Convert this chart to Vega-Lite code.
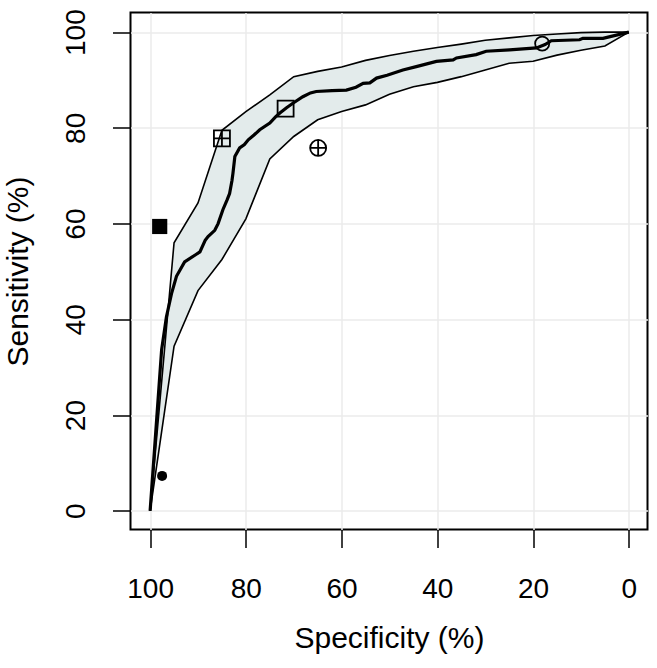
{
  "$schema": "https://vega.github.io/schema/vega-lite/v6.json",
  "width": 517,
  "height": 517,
  "autosize": "none",
  "padding": {"left": 130.5, "top": 12.5, "right": 9.5, "bottom": 138.5},
  "background": "white",
  "config": {
    "font": "Liberation Sans",
    "view": {"stroke": "black", "strokeWidth": 2},
    "axis": {
      "domain": false,
      "grid": true,
      "gridColor": "#ebebeb",
      "gridWidth": 1.5,
      "ticks": true,
      "tickColor": "black",
      "tickWidth": 1.5,
      "tickSize": 18,
      "labelFont": "Liberation Sans",
      "labelFontSize": 28,
      "labelColor": "black",
      "titleFont": "Liberation Sans",
      "titleFontSize": 30,
      "titleFontWeight": "normal",
      "titleColor": "black"
    }
  },
  "datasets": {
    "band": [
      {"spec": 100, "lo": 0, "hi": 0},
      {"spec": 95, "lo": 34.4, "hi": 56},
      {"spec": 90, "lo": 46, "hi": 64.3},
      {"spec": 85, "lo": 52.5, "hi": 79.5},
      {"spec": 80, "lo": 61, "hi": 83.4},
      {"spec": 75, "lo": 73.5, "hi": 86.9},
      {"spec": 70, "lo": 78.2, "hi": 90.7},
      {"spec": 65, "lo": 81.7, "hi": 91.8},
      {"spec": 60, "lo": 83.4, "hi": 92.7},
      {"spec": 55, "lo": 84.8, "hi": 94.1},
      {"spec": 50, "lo": 87, "hi": 95.1},
      {"spec": 45, "lo": 88.6, "hi": 96},
      {"spec": 40, "lo": 89.5, "hi": 96.8},
      {"spec": 35, "lo": 90.7, "hi": 97.5},
      {"spec": 30, "lo": 92.1, "hi": 98.3},
      {"spec": 25, "lo": 93.5, "hi": 98.8},
      {"spec": 20, "lo": 93.9, "hi": 99.3},
      {"spec": 15, "lo": 95.2, "hi": 99.6},
      {"spec": 10, "lo": 96.2, "hi": 99.9},
      {"spec": 5, "lo": 97.1, "hi": 100},
      {"spec": 0, "lo": 100, "hi": 100}
    ],
    "roc": [
      {"spec": 100, "sens": 0},
      {"spec": 97.6, "sens": 33.6},
      {"spec": 96.6, "sens": 40.5},
      {"spec": 95.5, "sens": 45.5},
      {"spec": 94.5, "sens": 49},
      {"spec": 92.8, "sens": 52},
      {"spec": 90.5, "sens": 53.5},
      {"spec": 89.6, "sens": 54.1},
      {"spec": 88.5, "sens": 56.5},
      {"spec": 87.9, "sens": 57.3},
      {"spec": 86.5, "sens": 58.6},
      {"spec": 85.8, "sens": 60},
      {"spec": 84.8, "sens": 62.9},
      {"spec": 83.9, "sens": 65},
      {"spec": 83.4, "sens": 66.3},
      {"spec": 82.9, "sens": 69},
      {"spec": 82.7, "sens": 70.5},
      {"spec": 82.3, "sens": 74},
      {"spec": 81.3, "sens": 75.8},
      {"spec": 80.3, "sens": 76.5},
      {"spec": 79.5, "sens": 77.5},
      {"spec": 78.3, "sens": 78.5},
      {"spec": 77.1, "sens": 79.6},
      {"spec": 75, "sens": 81},
      {"spec": 73.8, "sens": 82.3},
      {"spec": 72.9, "sens": 83.1},
      {"spec": 71.5, "sens": 84.2},
      {"spec": 70.1, "sens": 85.2},
      {"spec": 68.1, "sens": 86.5},
      {"spec": 66.5, "sens": 87.3},
      {"spec": 65.3, "sens": 87.6},
      {"spec": 62, "sens": 87.8},
      {"spec": 59, "sens": 87.9},
      {"spec": 57, "sens": 88.5},
      {"spec": 55.5, "sens": 89.3},
      {"spec": 54.1, "sens": 89.4},
      {"spec": 52.7, "sens": 90.4},
      {"spec": 50.5, "sens": 91},
      {"spec": 47.2, "sens": 92.1},
      {"spec": 44.4, "sens": 92.8},
      {"spec": 40.2, "sens": 93.9},
      {"spec": 36.7, "sens": 94.2},
      {"spec": 36, "sens": 94.6},
      {"spec": 31.9, "sens": 95.3},
      {"spec": 29.8, "sens": 96},
      {"spec": 24.9, "sens": 96.3},
      {"spec": 19.3, "sens": 96.7},
      {"spec": 17.5, "sens": 97.4},
      {"spec": 16.2, "sens": 98.2},
      {"spec": 10.3, "sens": 98.4},
      {"spec": 9.6, "sens": 98.7},
      {"spec": 5.4, "sens": 98.7},
      {"spec": 0, "sens": 100}
    ],
    "pts": [
      {"test": "T1", "spec": 98, "sens": 59.4},
      {"test": "T2", "spec": 97.5, "sens": 7.3},
      {"test": "T3", "spec": 85, "sens": 77.8},
      {"test": "T4", "spec": 71.7, "sens": 84},
      {"test": "T5", "spec": 64.9, "sens": 75.8},
      {"test": "T6", "spec": 18.1, "sens": 97.6}
    ]
  },
  "encoding": {
    "x": {
      "field": "spec",
      "type": "quantitative",
      "scale": {"domain": [-3.9, 104.1], "reverse": true, "nice": false, "zero": false},
      "axis": {
        "values": [0, 20, 40, 60, 80, 100],
        "title": "Specificity (%)",
        "labelPadding": 49.5,
        "labelBaseline": "alphabetic",
        "titleBaseline": "alphabetic",
        "titleX": 258.5,
        "titleY": 118,
        "titleAnchor": "middle"
      }
    }
  },
  "layer": [
    {
      "data": {"name": "band"},
      "mark": {"type": "area", "fill": "#e3ebeb", "stroke": null},
      "encoding": {
        "y": {
          "field": "lo",
          "type": "quantitative",
          "scale": {"domain": [-3.9, 104.1], "nice": false, "zero": false},
          "axis": {
            "values": [0, 20, 40, 60, 80, 100],
            "title": "Sensitivity (%)",
            "labelAngle": -90,
            "labelAlign": "center",
            "labelBaseline": "alphabetic",
            "labelPadding": 28,
            "titleAngle": -90,
            "titleBaseline": "alphabetic",
            "titleAlign": "center",
            "titleX": -103,
            "titleY": 258.5
          }
        },
        "y2": {"field": "hi"}
      }
    },
    {
      "data": {"name": "band"},
      "mark": {"type": "line", "color": "black", "strokeWidth": 1.6},
      "encoding": {"y": {"field": "lo", "type": "quantitative"}}
    },
    {
      "data": {"name": "band"},
      "mark": {"type": "line", "color": "black", "strokeWidth": 1.6},
      "encoding": {"y": {"field": "hi", "type": "quantitative"}}
    },
    {
      "data": {"name": "roc"},
      "mark": {"type": "line", "color": "black", "strokeWidth": 3.2},
      "encoding": {"y": {"field": "sens", "type": "quantitative"}, "order": {"value": null}}
    },
    {
      "data": {"name": "pts"},
      "transform": [{"filter": "datum.test === 'T1'"}],
      "mark": {"type": "point", "shape": "square", "size": 230, "filled": true, "color": "black", "opacity": 1},
      "encoding": {"y": {"field": "sens", "type": "quantitative"}}
    },
    {
      "data": {"name": "pts"},
      "transform": [{"filter": "datum.test === 'T2'"}],
      "mark": {"type": "point", "shape": "circle", "size": 100, "filled": true, "color": "black", "opacity": 1},
      "encoding": {"y": {"field": "sens", "type": "quantitative"}}
    },
    {
      "data": {"name": "pts"},
      "transform": [{"filter": "datum.test === 'T3'"}],
      "mark": {"type": "point", "shape": "M-1,-1H1V1H-1ZM-1,0H1M0,-1V1", "size": 256, "filled": false, "stroke": "black", "strokeWidth": 1.8, "opacity": 1},
      "encoding": {"y": {"field": "sens", "type": "quantitative"}}
    },
    {
      "data": {"name": "pts"},
      "transform": [{"filter": "datum.test === 'T4'"}],
      "mark": {"type": "point", "shape": "square", "size": 256, "filled": false, "stroke": "black", "strokeWidth": 1.8, "opacity": 1},
      "encoding": {"y": {"field": "sens", "type": "quantitative"}}
    },
    {
      "data": {"name": "pts"},
      "transform": [{"filter": "datum.test === 'T5'"}],
      "mark": {"type": "point", "shape": "M-1,0A1,1,0,1,1,1,0A1,1,0,1,1,-1,0ZM-1,0H1M0,-1V1", "size": 256, "filled": false, "stroke": "black", "strokeWidth": 1.8, "opacity": 1},
      "encoding": {"y": {"field": "sens", "type": "quantitative"}}
    },
    {
      "data": {"name": "pts"},
      "transform": [{"filter": "datum.test === 'T6'"}],
      "mark": {"type": "point", "shape": "circle", "size": 200, "filled": false, "stroke": "black", "strokeWidth": 1.8, "opacity": 1},
      "encoding": {"y": {"field": "sens", "type": "quantitative"}}
    }
  ]
}
